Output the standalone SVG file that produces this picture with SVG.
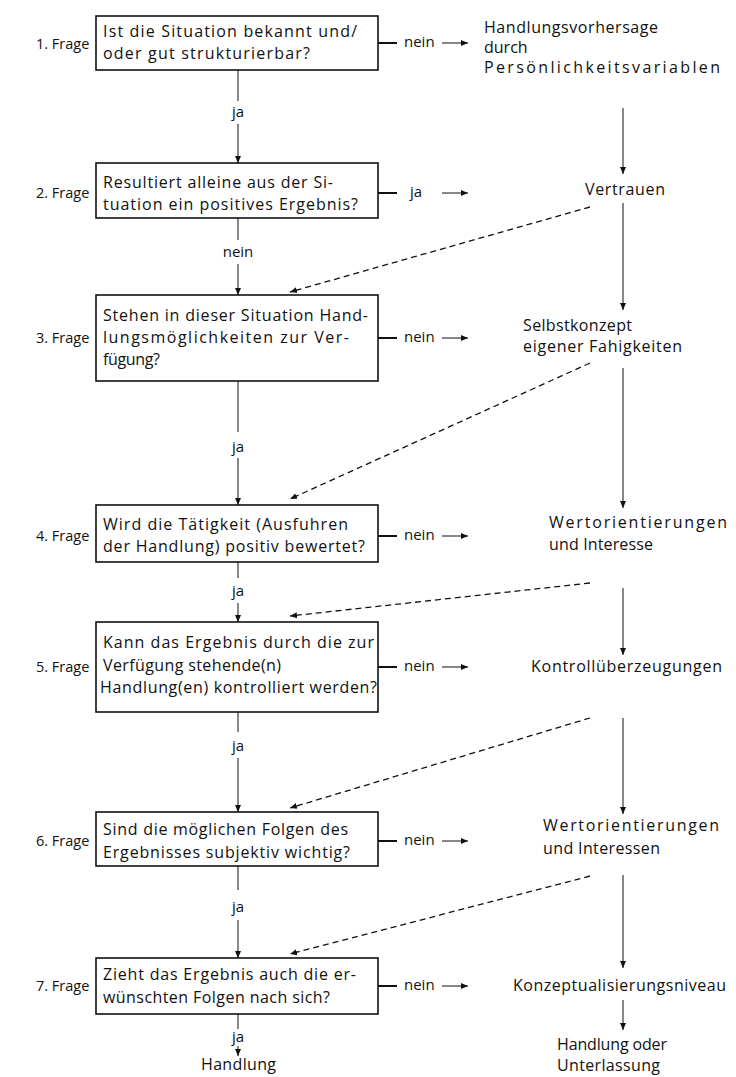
<svg xmlns="http://www.w3.org/2000/svg" width="736" height="1077" viewBox="0 0 736 1077">
<style>
text{font-family:"Open Sans","DejaVu Sans",sans-serif;font-size:16px;fill:#111}
.lb{font-size:14.5px}
.sm{font-size:15px}
.box{fill:#fff;stroke:#111;stroke-width:1.6}
.ln{stroke:#111;stroke-width:1;fill:none}
.th{stroke:#111;stroke-width:2;fill:none}
.ds{stroke:#111;stroke-width:1.3;fill:none;stroke-dasharray:6 4}
.c{text-anchor:middle}
</style>
<defs>
<marker id="ah" markerWidth="8" markerHeight="8" refX="7" refY="4" orient="auto" markerUnits="userSpaceOnUse">
<path d="M0,1 L7,4 L0,7 Z" fill="#111"/>
</marker>
</defs>
<rect width="736" height="1077" fill="#fff"/>

<g id="labels">
<text class="lb" x="36" y="49">1. Frage</text>
<text class="lb" x="36" y="198">2. Frage</text>
<text class="lb" x="36" y="343">3. Frage</text>
<text class="lb" x="36" y="541">4. Frage</text>
<text class="lb" x="36" y="672">5. Frage</text>
<text class="lb" x="36" y="846">6. Frage</text>
<text class="lb" x="36" y="991">7. Frage</text>
</g>

<g id="q1"><rect class="box" x="96" y="16" width="282" height="54"/>
<text x="103" y="37" textLength="254">Ist die Situation bekannt und/</text>
<text x="103" y="59" textLength="207">oder gut strukturierbar?</text></g>

<g id="q2"><rect class="box" x="96" y="163" width="282" height="55"/>
<text x="103" y="188" textLength="230">Resultiert alleine aus der Si-</text>
<text x="103" y="210" textLength="255">tuation ein positives Ergebnis?</text></g>

<g id="q3"><rect class="box" x="96" y="295" width="282" height="86"/>
<text x="103" y="321" textLength="265">Stehen in dieser Situation Hand-</text>
<text x="103" y="343" textLength="246">lungsmöglichkeiten zur Ver-</text>
<text x="103" y="365" textLength="57">fügung?</text></g>

<g id="q4"><rect class="box" x="96" y="505" width="282" height="57"/>
<text x="103" y="530" textLength="245">Wird die Tätigkeit (Ausfuhren</text>
<text x="103" y="552" textLength="262">der Handlung) positiv bewertet?</text></g>

<g id="q5"><rect class="box" x="96" y="622" width="282" height="90"/>
<text x="103" y="648" textLength="271">Kann das Ergebnis durch die zur</text>
<text x="103" y="671" textLength="178">Verfügung stehende(n)</text>
<text x="100" y="693" textLength="277">Handlung(en) kontrolliert werden?</text></g>

<g id="q6"><rect class="box" x="96" y="812" width="282" height="54"/>
<text x="103" y="835" textLength="245">Sind die möglichen Folgen des</text>
<text x="103" y="858" textLength="247">Ergebnisses subjektiv wichtig?</text></g>

<g id="q7"><rect class="box" x="96" y="958" width="282" height="56"/>
<text x="103" y="980" textLength="253">Zieht das Ergebnis auch die er-</text>
<text x="103" y="1003" textLength="227">wünschten Folgen nach sich?</text></g>

<g id="r1"><text x="484" y="33" textLength="174">Handlungsvorhersage</text>
<text x="484" y="53">durch</text>
<text x="484" y="73" textLength="236">Persönlichkeitsvariablen</text></g>
<g id="r2"><text x="585" y="195" textLength="80">Vertrauen</text></g>
<g id="r3"><text x="523" y="331" textLength="109">Selbstkonzept</text>
<text x="523" y="352" textLength="159">eigener Fahigkeiten</text></g>
<g id="r4"><text x="549" y="528" textLength="178">Wertorientierungen</text>
<text x="549" y="550" textLength="104">und Interesse</text></g>
<g id="r5"><text x="531" y="672" textLength="191">Kontrollüberzeugungen</text></g>
<g id="r6"><text x="543" y="831" textLength="176">Wertorientierungen</text>
<text x="543" y="854" textLength="117">und Interessen</text></g>
<g id="r7"><text x="513" y="991" textLength="213">Konzeptualisierungsniveau</text></g>
<g id="r8"><text x="557" y="1050" textLength="110">Handlung oder</text>
<text x="557" y="1071" textLength="103">Unterlassung</text></g>
<g id="end"><text x="201" y="1070" textLength="75">Handlung</text></g>

<g id="connectors">
<path class="th" d="M378,43 H397 M378,193 H397 M378,338 H397 M378,536 H397 M378,667 H397 M378,841 H397 M378,986 H397"/>
<text class="sm" x="404" y="47">nein</text>
<text class="sm" x="410" y="197">ja</text>
<text class="sm" x="404" y="342">nein</text>
<text class="sm" x="404" y="540">nein</text>
<text class="sm" x="404" y="671">nein</text>
<text class="sm" x="404" y="845">nein</text>
<text class="sm" x="404" y="990">nein</text>
<g class="ln" marker-end="url(#ah)">
<path d="M442,43 H468"/><path d="M442,193 H468"/><path d="M442,338 H468"/><path d="M442,536 H468"/><path d="M442,667 H468"/><path d="M442,841 H468"/><path d="M442,986 H468"/>
</g>
<path class="ln" d="M238,70 V101 M238,218 V240 M238,381 V432 M238,562 V578 M238,712 V732 M238,866 V890 M238,1014 V1029"/>
<g class="ln" marker-end="url(#ah)">
<path d="M238,124 V163"/><path d="M238,264 V295"/><path d="M238,458 V505"/><path d="M238,603 V622"/><path d="M238,758 V812"/><path d="M238,920 V958"/><path d="M238,1046 V1056"/>
</g>
<text class="c sm" x="238" y="117">ja</text>
<text class="c sm" x="238" y="257">nein</text>
<text class="c sm" x="238" y="452">ja</text>
<text class="c sm" x="238" y="596">ja</text>
<text class="c sm" x="238" y="751">ja</text>
<text class="c sm" x="238" y="912">ja</text>
<text class="c sm" x="238" y="1042">ja</text>
<g class="ln" marker-end="url(#ah)">
<path d="M623,108 V174"/><path d="M623,203 V310"/><path d="M623,368 V508"/><path d="M623,588 V655"/><path d="M623,718 V814"/><path d="M623,875 V968"/><path d="M623,1000 V1030"/>
</g>
<g class="ds" marker-end="url(#ah)">
<path d="M590,207 L290,292"/>
<path d="M590,363 L290,499"/>
<path d="M590,583 L290,616"/>
<path d="M590,718 L290,808"/>
<path d="M590,876 L290,954"/>
</g>
</g>
</svg>
